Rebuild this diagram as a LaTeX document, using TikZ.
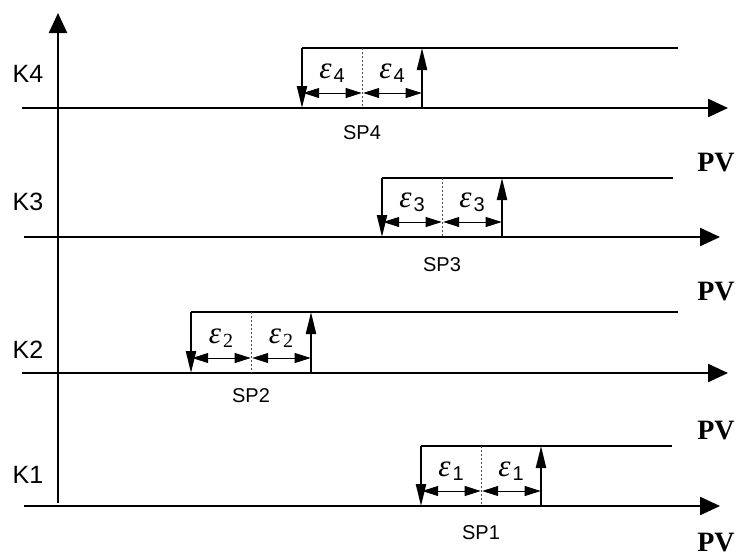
\documentclass[tikz,border=0pt]{standalone}
\usepackage{fontspec}
\setmainfont{Liberation Sans}
\setsansfont{Liberation Sans}
\newfontfamily\pvfont{Liberation Serif}
\usetikzlibrary{arrows.meta}
\newcommand\epsof[1]{{\pvfont\itshape ε}\kern2pt\raisebox{-4pt}{\fontsize{20}{20}\selectfont #1}}
\begin{document}
\begin{tikzpicture}[x=1pt,y=-1pt,
  axisline/.style={line width=2.4pt,-{Triangle[length=20pt,width=18pt]}},
  level/.style={line width=2.4pt},
  trans/.style={line width=2.4pt,-{Triangle[length=22pt,width=10pt]}},
  band/.style={line width=0.9pt,{Triangle[length=16pt,width=10pt]}-{Triangle[length=16pt,width=10pt]},shorten <=1.2pt,shorten >=0.3pt},
  mid/.style={line width=0.8pt,dash pattern=on 2pt off 2pt,black!70},
  klabel/.style={font=\fontsize{25}{25}\selectfont},
  splabel/.style={font=\fontsize{20}{20}\selectfont},
  pvlabel/.style={font=\pvfont\bfseries\fontsize{28}{28}\selectfont,inner sep=1pt},
  epslabel/.style={font=\fontsize{31}{31}\selectfont,inner sep=0pt}]
\useasboundingbox (0,0) rectangle (736,558);
\coordinate (o) at (58,503);
\coordinate (top) at (58,13);
\draw[axisline] (o) -- (top);
\foreach \n/\yb/\yu/\xd/\xr/\xl/\xt/\ypv/\ysp/\yk/\s in {
 4/108/48/302/678/22/728/163/133/74/{4},
 3/237/178/382/673/24/720/292/265/202/{3},
 2/373/312/191/678/22/728/431/396/350/{\pvfont 2},
 1/506/446/421/672/24/720/543/533/475/{1}}
{
  \pgfmathsetmacro\xm{\xd+60}
  \pgfmathsetmacro\xu{\xd+120}
  \pgfmathsetmacro\yband{\yb-15}
  \pgfmathsetmacro\yeps{\yb-35}
  \coordinate (bl\n) at (\xl,\yb);
  \coordinate (br\n) at (\xt,\yb);
  \coordinate (dt\n) at (\xd,\yu);
  \coordinate (db\n) at (\xd,\yb);
  \coordinate (mt\n) at (\xm,\yu);
  \coordinate (mb\n) at (\xm,\yb);
  \coordinate (ut\n) at (\xu,\yu);
  \coordinate (ub\n) at (\xu,\yb);
  \coordinate (end\n) at (\xr,\yu);
  \coordinate (bd\n) at (\xd,\yband);
  \coordinate (bm\n) at (\xm,\yband);
  \coordinate (bu\n) at (\xu,\yband);
  \draw[axisline] (bl\n) -- (br\n);
  \draw[level] (dt\n) -- (end\n);
  \draw[trans] (dt\n) -- (db\n);
  \draw[trans] (ub\n) -- (ut\n);
  \draw[mid] (mt\n) -- (mb\n);
  \draw[band] (bd\n) -- (bm\n);
  \draw[band] (bm\n) -- (bu\n);
  \node[epslabel] (epsl\n) at ({(\xd+\xm)/2},\yeps) {\epsof{\s}};
  \node[epslabel] (epsr\n) at ({(\xm+\xu)/2},\yeps) {\epsof{\s}};
  \node[splabel] (sp\n) at (\xm,\ysp) {SP\n};
  \node[klabel] (k\n) at (28,\yk) {K\n};
  \node[pvlabel] (pv\n) at (716,\ypv) {PV};
}
\end{tikzpicture}
\end{document}
